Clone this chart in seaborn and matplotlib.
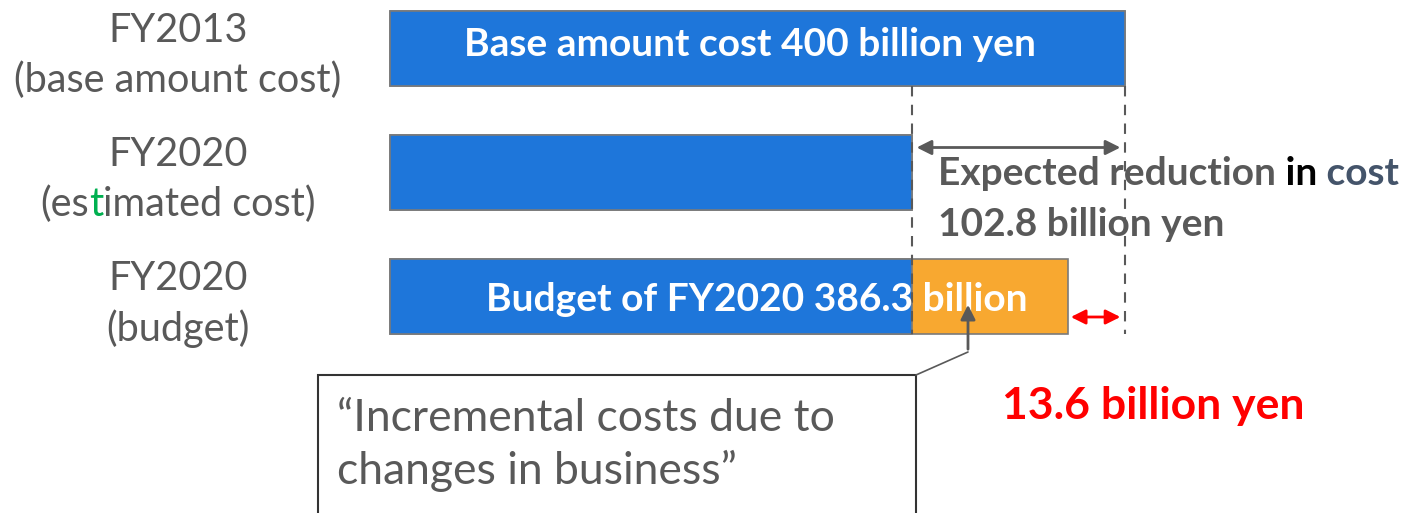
import numpy as np
import pandas as pd
import seaborn as sns
import matplotlib.pyplot as plt
from matplotlib.patches import Rectangle

sns.set_theme(style="white")
plt.rcParams['font.family'] = ['Lato', 'DejaVu Sans']

# --- data (billion yen) ---
# bar lengths as drawn in the (schematic) reference, labels carry the stated numbers
cat_top = ["FY2013", "FY2020", "FY2020"]
cat_sub = ["(base amount cost)", "(estimated cost)", "(budget)"]
categories = [f"{a}\n{b}" for a, b in zip(cat_top, cat_sub)]
bar_base = 400.0
bar_estimated = 284.1
bar_budget = 369.0
totals = [bar_base, bar_estimated, bar_budget]
blue_part = [bar_base, bar_estimated, bar_estimated]

base_label = "400"
reduction_label = "102.8"
budget_label = "386.3"
gap_label = "13.6"

BLUE = "#1E76DA"
ORANGE = "#F8A830"
GRAY = "#595959"
EDGE = "#7a7a7a"

fig = plt.figure(figsize=(14.09, 5.13), dpi=100)
ax = fig.add_axes([0, 0, 1, 1])

px = 400 / 735  # data units per pixel
bar_h = 75 / 124

df_tot = pd.DataFrame({"cat": categories, "val": totals})
df_blue = pd.DataFrame({"cat": categories, "val": blue_part})

sns.barplot(data=df_tot, y="cat", x="val", hue="cat", orient="h", legend=False,
            palette=[BLUE, BLUE, ORANGE], width=bar_h, edgecolor=EDGE, linewidth=1.2,
            saturation=1, ax=ax)
sns.barplot(data=df_blue, y="cat", x="val", orient="h", color=BLUE, width=bar_h,
            edgecolor=EDGE, linewidth=1.2, saturation=1, ax=ax)

ax.set_xlim(-390 * px, (1409 - 390) * px)
ax.set_ylim((513 - 48) / 124, -48 / 124)
ax.axis("off")

# category labels on the left (two lines each, "t" in estimated is green)
xl = -212 * px
fs_cat = 28.5
dy_top, dy_sub = -0.14, 0.26
for i in range(3):
    ax.text(xl, i + dy_top, cat_top[i], ha="center", va="center", fontsize=fs_cat, color=GRAY)
    if i != 1:
        ax.text(xl, i + dy_sub, cat_sub[i], ha="center", va="center", fontsize=fs_cat, color=GRAY)

fig.canvas.draw()
renderer = fig.canvas.get_renderer()
tmp = ax.text(xl, 1 + dy_sub, cat_sub[1], ha="center", va="center", fontsize=fs_cat, color=GRAY)
bb = tmp.get_window_extent(renderer)
tmp.remove()
x0 = ax.transData.inverted().transform((bb.x0, 0))[0]
p1 = ax.text(x0, 1 + dy_sub, "(es", ha="left", va="center", fontsize=fs_cat, color=GRAY)
p2 = ax.annotate("t", xy=(1, 0), xycoords=p1, ha="left", va="bottom",
                 fontsize=fs_cat, color="#00B050")
ax.annotate("imated cost)", xy=(1, 0), xycoords=p2, ha="left", va="bottom",
            fontsize=fs_cat, color=GRAY)

# labels inside bars
ax.text((750 - 390) * px, 0 - 0.03, f"Base amount cost {base_label} billion yen",
        ha="center", va="center", color="white", fontsize=28, fontweight="bold")
ax.text((757 - 390) * px, 2 + 0.03, f"Budget of FY2020 {budget_label} billion",
        ha="center", va="center", color="white", fontsize=28, fontweight="bold")

# dashed guide lines
y_top = 0 + bar_h / 2
y_bot = 2 + bar_h / 2
for xv in [bar_estimated, bar_base]:
    ax.plot([xv, xv], [y_top, y_bot], ls=(0, (5, 4)), color=GRAY, lw=1.5)

# reduction arrow
ya = 1 - bar_h / 2 + 13 / 124
ax.annotate("", xy=(bar_estimated + 1, ya), xytext=(bar_base - 1, ya),
            arrowprops=dict(arrowstyle="<|-|>", color=GRAY, lw=2, mutation_scale=22))
xr = (938 - 390) * px
t1 = ax.text(xr, 1 + 0.15, "Expected reduction", ha="left", va="bottom",
             fontsize=28, fontweight="bold", color=GRAY)
t2 = ax.annotate(" in", xy=(1, 0), xycoords=t1, ha="left", va="bottom",
                 fontsize=28, fontweight="bold", color="black")
ax.annotate(" cost", xy=(1, 0), xycoords=t2, ha="left", va="bottom",
            fontsize=28, fontweight="bold", color="#44546A")
ax.text(xr, 1 + 53 / 124, f"{reduction_label} billion yen", ha="left",
        va="center", fontsize=28, fontweight="bold", color=GRAY)

# gap arrow (red)
yr = 2 + 21 / 124
ax.annotate("", xy=(bar_budget, yr), xytext=(bar_base - 1, yr),
            arrowprops=dict(arrowstyle="<|-|>", color="red", lw=2, mutation_scale=22))
ax.text((1153 - 390) * px, 2 + 110 / 124, f"{gap_label} billion yen", ha="center", va="center",
        fontsize=32, fontweight="bold", color="red")

# callout box
bx0, bx1 = (318 - 390) * px, (916 - 390) * px
by0 = (375 - 48) / 124
ax.add_patch(Rectangle((bx0, by0), bx1 - bx0, 3, fill=True, facecolor="white",
                       edgecolor="#333333", lw=1.5, clip_on=False))
ax.text((337 - 390) * px, (445 - 48) / 124,
        "\u201cIncremental costs due to\nchanges in business\u201d",
        ha="left", va="center", fontsize=32, color=GRAY, linespacing=1.3)
xc = (968 - 390) * px
ax.plot([bx1, xc], [by0, (352 - 48) / 124], color=GRAY, lw=1.2)
ax.annotate("", xy=(xc, (302 - 48) / 124), xytext=(xc, (352 - 48) / 124),
            arrowprops=dict(arrowstyle="-|>", color=GRAY, lw=2, mutation_scale=22))

fig.savefig("out.png", dpi=100)
